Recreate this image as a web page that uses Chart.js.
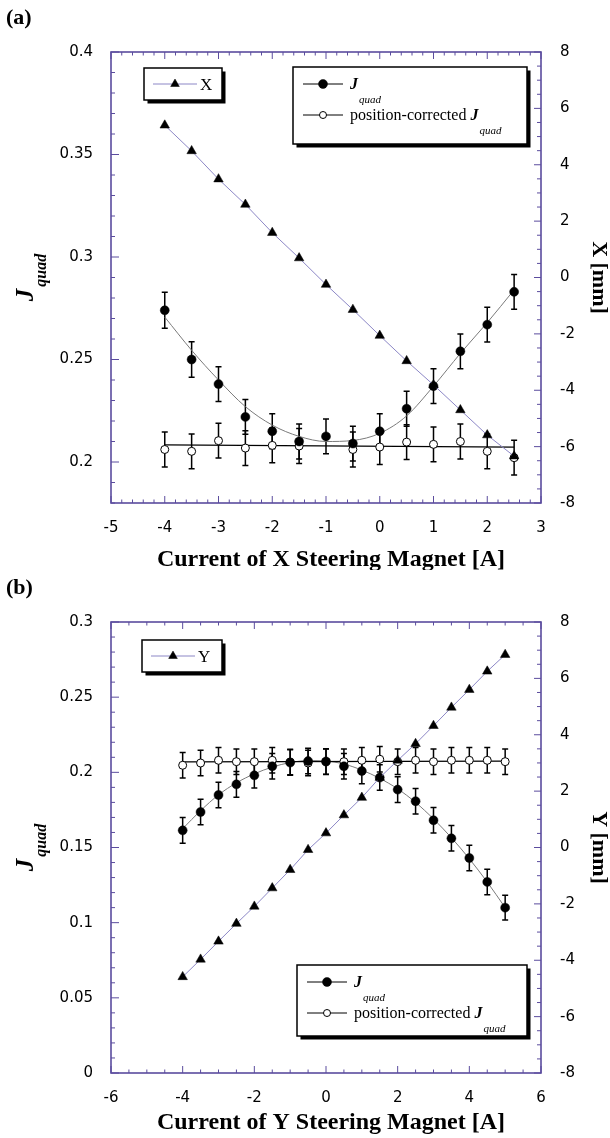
<!DOCTYPE html>
<html>
<head>
<meta charset="utf-8">
<script src="https://cdn.jsdelivr.net/npm/chart.js@4.4.1/dist/chart.umd.min.js"></script>
<style>
    html, body { margin: 0; padding: 0; background: #fff; }
    .panel { position: absolute; left: 0; width: 610px; }
    #panelA { top: 0; height: 570px; }
    #panelB { top: 570px; height: 568px; }
</style>
</head>
<body>
<div class="panel" id="panelA"><canvas id="chartA"></canvas></div>
<div class="panel" id="panelB"><canvas id="chartB"></canvas></div>
<script>
// ---- data, panel (a): X steering magnet scan
const xCurA = [-4, -3.5, -3, -2.5, -2, -1.5, -1, -0.5, 0, 0.5, 1, 1.5, 2, 2.5]
const jquadA = [0.274, 0.250, 0.238, 0.222, 0.215, 0.210, 0.2125, 0.209, 0.215, 0.226, 0.237, 0.254, 0.267, 0.283]
const jquadErrA = [0.0088, 0.0087, 0.0085, 0.0085, 0.0085, 0.0085, 0.0085, 0.0085, 0.0085, 0.0085, 0.0085, 0.0085, 0.0085, 0.0085]
const corrA = [0.2061, 0.2052, 0.2104, 0.2068, 0.2081, 0.2078, null, 0.2061, 0.2073, 0.2097, 0.2086, 0.2100, 0.2052, 0.2021]
const corrErrA = [0.0085, 0.0085, 0.0085, 0.0085, 0.0085, 0.0085, 0.0085, 0.0085, 0.0085, 0.0085, 0.0085, 0.0085, 0.0085, 0.0085]
const posXA = [5.40, 4.49, 3.49, 2.59, 1.59, 0.69, -0.25, -1.14, -2.06, -2.96, -3.81, -4.70, -5.59, -6.34]
const fitJquadA = [0.2707, 0.2545, 0.2400, 0.2270, 0.2180, 0.2125, 0.2100, 0.2105, 0.2140, 0.2225, 0.2370, 0.2530, 0.2680, 0.2840]
const fitCorrXA = [-4, 2.5]
const fitCorrA = [0.2084, 0.2073]
const xTicksA = [-5, -4, -3, -2, -1, 0, 1, 2, 3]
const yTicksA = [0.2, 0.25, 0.3, 0.35, 0.4]
const y2TicksA = [-8, -6, -4, -2, 0, 2, 4, 6, 8]

// ---- data, panel (b): Y steering magnet scan
const xCurB = [-4, -3.5, -3, -2.5, -2, -1.5, -1, -0.5, 0, 0.5, 1, 1.5, 2, 2.5, 3, 3.5, 4, 4.5, 5]
const jquadB = [0.1614, 0.1736, 0.1849, 0.1920, 0.1980, 0.2040, 0.2065, 0.2075, 0.2072, 0.2040, 0.2009, 0.1965, 0.1885, 0.1808, 0.1681, 0.1561, 0.1430, 0.1271, 0.1100]
const jquadErrB = [0.0085, 0.0085, 0.0085, 0.0085, 0.0085, 0.0085, 0.0085, 0.0085, 0.0085, 0.0085, 0.0085, 0.0085, 0.0085, 0.0085, 0.0085, 0.0085, 0.0085, 0.0085, 0.0083]
const corrB = [0.2047, 0.2062, 0.2080, 0.2071, 0.2071, 0.2080, 0.2069, 0.2062, 0.2071, 0.2071, 0.2080, 0.2087, 0.2071, 0.2080, 0.2071, 0.2080, 0.2080, 0.2080, 0.2071]
const corrErrB = [0.0085, 0.0085, 0.0085, 0.0085, 0.0085, 0.0085, 0.0085, 0.0085, 0.0085, 0.0085, 0.0085, 0.0085, 0.0085, 0.0085, 0.0085, 0.0085, 0.0085, 0.0085, 0.0085]
const posYB = [-4.59, -3.97, -3.33, -2.70, -2.09, -1.44, -0.79, -0.08, 0.51, 1.15, 1.77, 2.48, 3.09, 3.68, 4.32, 4.97, 5.60, 6.25, 6.84]
const fitJquadB = [0.1625, 0.1745, 0.1850, 0.1930, 0.1990, 0.2035, 0.2065, 0.2078, 0.2075, 0.2055, 0.2015, 0.1960, 0.1890, 0.1800, 0.1690, 0.1565, 0.1425, 0.1270, 0.1100]
const fitCorrXB = [-4, 5]
const fitCorrB = [0.2070, 0.2074]
const xTicksB = [-6, -4, -2, 0, 2, 4, 6]
const yTicksB = [0, 0.05, 0.1, 0.15, 0.2, 0.25, 0.3]
const y2TicksB = [-8, -6, -4, -2, 0, 2, 4, 6, 8]

const AXIS = '#5b4c9e'
const POSLINE = '#8c87c6'
const FITGRAY = '#7a7a7a'
const SERIF = '"Liberation Serif", "Times New Roman", serif'
const SANS = '"DejaVu Sans", sans-serif'

function main() {
    buildChart('chartA', {
        xs: xCurA, jquad: jquadA, jquadErr: jquadErrA, corr: corrA, corrErr: corrErrA,
        pos: posXA, fitJ: fitJquadA, fitCx: fitCorrXA, fitC: fitCorrA,
        xTicks: xTicksA, yTicks: yTicksA, y2Ticks: y2TicksA,
        xMin: -5, xMax: 3, yMin: 0.18, yMax: 0.4, height: 570
    }, {
        tag: '(a)', xTitle: 'Current of X Steering Magnet [A]', xTitleY: 566, rTitle: 'X [mm]',
        posLegend: { x: 144, y: 68, w: 78, h: 32, label: 'X' },
        jLegend: { x: 293, y: 67, w: 234, h: 77 },
        xMajor: 1, xMinor: 0.2, yMajor: 0.05, yMinor: 0.01, y2Major: 2, y2Minor: 0.5
    })
    buildChart('chartB', {
        xs: xCurB, jquad: jquadB, jquadErr: jquadErrB, corr: corrB, corrErr: corrErrB,
        pos: posYB, fitJ: fitJquadB, fitCx: fitCorrXB, fitC: fitCorrB,
        xTicks: xTicksB, yTicks: yTicksB, y2Ticks: y2TicksB,
        xMin: -6, xMax: 6, yMin: 0, yMax: 0.3, height: 568
    }, {
        tag: '(b)', xTitle: 'Current of Y Steering Magnet [A]', xTitleY: 559, rTitle: 'Y [mm]',
        posLegend: { x: 142, y: 70, w: 80, h: 32, label: 'Y' },
        jLegend: { x: 297, y: 395, w: 230, h: 71 },
        xMajor: 2, xMinor: 0.5, yMajor: 0.05, yMinor: 0.01, y2Major: 2, y2Minor: 0.5
    })
}

function pts(xs, ys) {
    return xs.map((x, i) => ({ x: x, y: ys[i] }))
}

function fixedTicks(values) {
    return scale => { scale.ticks = values.map(v => ({ value: v })) }
}

function buildChart(canvasId, d, deco) {
    const ctx = document.getElementById(canvasId)
    const tickFont = { family: SANS, size: 15 }

    new Chart(ctx, {
        type: 'scatter',
        data: {
            datasets: [
                {
                    label: 'position', data: pts(d.xs, d.pos), yAxisID: 'y2', showLine: true,
                    borderColor: POSLINE, borderWidth: 1, pointStyle: 'triangle', pointRadius: 5.5,
                    pointBackgroundColor: '#000', pointBorderColor: '#000', pointBorderWidth: 0.5, order: 1
                },
                {
                    label: 'Jquad fit', data: pts(d.xs, d.fitJ), yAxisID: 'y', showLine: true,
                    borderColor: FITGRAY, borderWidth: 1, pointRadius: 0, cubicInterpolationMode: 'monotone', order: 5
                },
                {
                    label: 'Jquad', data: pts(d.xs, d.jquad), yAxisID: 'y', showLine: false,
                    pointStyle: 'circle', pointRadius: 4.5, pointBackgroundColor: '#000',
                    pointBorderColor: '#000', pointBorderWidth: 0.5, errors: d.jquadErr, order: 2
                },
                {
                    label: 'position-corrected Jquad', data: pts(d.xs, d.corr), yAxisID: 'y', showLine: false,
                    pointStyle: 'circle', pointRadius: 4, pointBackgroundColor: '#fff',
                    pointBorderColor: '#000', pointBorderWidth: 1, errors: d.corrErr, order: 3
                },
                {
                    label: 'corrected fit', data: pts(d.fitCx, d.fitC), yAxisID: 'y', showLine: true,
                    borderColor: '#000', borderWidth: 1.3, pointRadius: 0, order: 4
                }
            ]
        },
        options: {
            responsive: true,
            maintainAspectRatio: false,
            animation: false,
            devicePixelRatio: 1,
            layout: { padding: { top: 52, left: 0, right: 0, bottom: 0 } },
            plugins: { legend: { display: false }, tooltip: { enabled: false }, deco: deco },
            scales: {
                x: {
                    type: 'linear', min: d.xMin, max: d.xMax,
                    afterBuildTicks: fixedTicks(d.xTicks),
                    afterFit: s => { s.height = d.height - 503 },
                    grid: { display: false }, border: { display: false },
                    ticks: { font: tickFont, color: '#000', padding: 8, autoSkip: false, maxRotation: 0, callback: v => String(v) }
                },
                y: {
                    type: 'linear', position: 'left', min: d.yMin, max: d.yMax,
                    afterBuildTicks: fixedTicks(d.yTicks),
                    afterFit: s => { s.width = 111 },
                    grid: { display: false }, border: { display: false },
                    ticks: { font: tickFont, color: '#000', padding: 10, callback: v => String(v) }
                },
                y2: {
                    type: 'linear', position: 'right', min: -8, max: 8,
                    afterBuildTicks: fixedTicks(d.y2Ticks),
                    afterFit: s => { s.width = 69 },
                    grid: { display: false }, border: { display: false },
                    ticks: { font: tickFont, color: '#000', padding: 11, callback: v => String(v) }
                }
            }
        },
        plugins: [errorBars, frame, decorations]
    })
}

// plugins
const errorBars = {
    id: 'errorBars',
    beforeDatasetsDraw(chart) {
        const ctx = chart.ctx
        const xs = chart.scales.x
        ctx.save()
        ctx.strokeStyle = '#000'
        ctx.lineWidth = 1.5
        chart.data.datasets.forEach(ds => {
            if (!ds.errors) return
            const ys = chart.scales[ds.yAxisID]
            ds.data.forEach((p, i) => {
                if (p.y === null) return
                const px = xs.getPixelForValue(p.x)
                const top = ys.getPixelForValue(p.y + ds.errors[i])
                const bot = ys.getPixelForValue(p.y - ds.errors[i])
                ctx.beginPath()
                ctx.moveTo(px, top); ctx.lineTo(px, bot)
                ctx.moveTo(px - 3, top); ctx.lineTo(px + 3, top)
                ctx.moveTo(px - 3, bot); ctx.lineTo(px + 3, bot)
                ctx.stroke()
            })
        })
        ctx.restore()
    }
}

function eachTick(scale, minor, major, fn) {
    const n = Math.round((scale.max - scale.min) / minor)
    for (let k = 0; k <= n; k++) {
        const v = scale.min + k * minor
        const r = v / major
        fn(scale.getPixelForValue(v), Math.abs(r - Math.round(r)) < 1e-6)
    }
}

const frame = {
    id: 'frame',
    afterDraw(chart) {
        const o = chart.options.plugins.deco
        const ctx = chart.ctx
        const a = chart.chartArea
        ctx.save()
        ctx.strokeStyle = AXIS
        ctx.lineWidth = 1
        ctx.beginPath()
        eachTick(chart.scales.x, o.xMinor, o.xMajor, (p, major) => {
            const len = major ? 7 : 3.5
            ctx.moveTo(p, a.bottom); ctx.lineTo(p, a.bottom - len)
            ctx.moveTo(p, a.top); ctx.lineTo(p, a.top + len)
        })
        eachTick(chart.scales.y, o.yMinor, o.yMajor, (p, major) => {
            const len = major ? 8 : 4
            ctx.moveTo(a.left, p); ctx.lineTo(a.left + len, p)
        })
        eachTick(chart.scales.y2, o.y2Minor, o.y2Major, (p, major) => {
            const len = major ? 7 : 4
            ctx.moveTo(a.right, p); ctx.lineTo(a.right - len, p)
        })
        ctx.stroke()
        ctx.lineWidth = 1.6
        ctx.strokeRect(a.left, a.top, a.right - a.left, a.bottom - a.top)
        ctx.restore()
    }
}

function drawBox(ctx, b) {
    ctx.fillStyle = '#000'
    ctx.fillRect(b.x + 3.5, b.y + 3.5, b.w, b.h)
    ctx.fillStyle = '#fff'
    ctx.fillRect(b.x, b.y, b.w, b.h)
    ctx.strokeStyle = '#000'
    ctx.lineWidth = 1.5
    ctx.strokeRect(b.x, b.y, b.w, b.h)
}

function sample(ctx, x1, x2, y, color, marker) {
    ctx.strokeStyle = color
    ctx.lineWidth = 1
    ctx.beginPath()
    ctx.moveTo(x1, y); ctx.lineTo(x2, y)
    ctx.stroke()
    ctx.fillStyle = marker.fill
    ctx.strokeStyle = '#000'
    ctx.lineWidth = marker.border
    Chart.helpers.drawPoint(ctx, { pointStyle: marker.style, radius: marker.radius, borderWidth: marker.border }, (x1 + x2) / 2, y)
}

function jquadText(ctx, x, y, big, small, drop) {
    ctx.font = 'italic bold ' + big + 'px ' + SERIF
    ctx.fillText('J', x, y)
    const w = ctx.measureText('J').width
    ctx.font = 'italic ' + small + 'px ' + SERIF
    ctx.fillText('quad', x + w + 1, y + drop)
}

const decorations = {
    id: 'decorations',
    afterDraw(chart) {
        const o = chart.options.plugins.deco
        const ctx = chart.ctx
        const a = chart.chartArea
        const cy = (a.top + a.bottom) / 2
        ctx.save()
        ctx.fillStyle = '#000'
        ctx.textBaseline = 'alphabetic'

        // panel tag
        ctx.font = 'bold 22px ' + SERIF
        ctx.textAlign = 'left'
        ctx.fillText(o.tag, 6, 24)

        // x title
        ctx.font = 'bold 24px ' + SERIF
        ctx.textAlign = 'center'
        ctx.fillText(o.xTitle, 331, o.xTitleY)

        // right title
        ctx.save()
        ctx.translate(593, cy)
        ctx.rotate(Math.PI / 2)
        ctx.font = 'bold 22px ' + SERIF
        ctx.fillText(o.rTitle, 0, 0)
        ctx.restore()

        // left title J_quad
        ctx.save()
        ctx.translate(33, cy)
        ctx.rotate(-Math.PI / 2)
        ctx.textAlign = 'left'
        ctx.font = 'italic bold 25px ' + SERIF
        const wJ = ctx.measureText('J').width
        ctx.font = 'italic bold 16px ' + SERIF
        const wq = ctx.measureText('quad').width
        const x0 = -(wJ + wq + 2) / 2
        ctx.font = 'italic bold 25px ' + SERIF
        ctx.fillText('J', x0, 0)
        ctx.font = 'italic bold 16px ' + SERIF
        ctx.fillText('quad', x0 + wJ + 2, 13)
        ctx.restore()

        // position legend
        const p = o.posLegend
        drawBox(ctx, p)
        const py = p.y + p.h / 2
        sample(ctx, p.x + 9, p.x + 53, py, POSLINE, { style: 'triangle', radius: 5, fill: '#000', border: 0.5 })
        ctx.fillStyle = '#000'
        ctx.textAlign = 'left'
        ctx.font = '17px ' + SERIF
        ctx.fillText(p.label, p.x + 56, py + 6)

        // Jquad legend
        const j = o.jLegend
        drawBox(ctx, j)
        const r1 = j.y + 17
        const r2 = j.y + 48
        sample(ctx, j.x + 10, j.x + 50, r1, '#000', { style: 'circle', radius: 4.5, fill: '#000', border: 0.5 })
        sample(ctx, j.x + 10, j.x + 50, r2, '#000', { style: 'circle', radius: 3.5, fill: '#fff', border: 1 })
        ctx.fillStyle = '#000'
        ctx.textAlign = 'left'
        jquadText(ctx, j.x + 57, r1 + 5, 16, 11, 14)
        ctx.font = '16px ' + SERIF
        const lead = 'position-corrected '
        ctx.fillText(lead, j.x + 57, r2 + 5)
        jquadText(ctx, j.x + 57 + ctx.measureText(lead).width, r2 + 5, 16, 11, 14)

        ctx.restore()
    }
}

// listeners
document.addEventListener('DOMContentLoaded', main)
</script>
</body>
</html>
